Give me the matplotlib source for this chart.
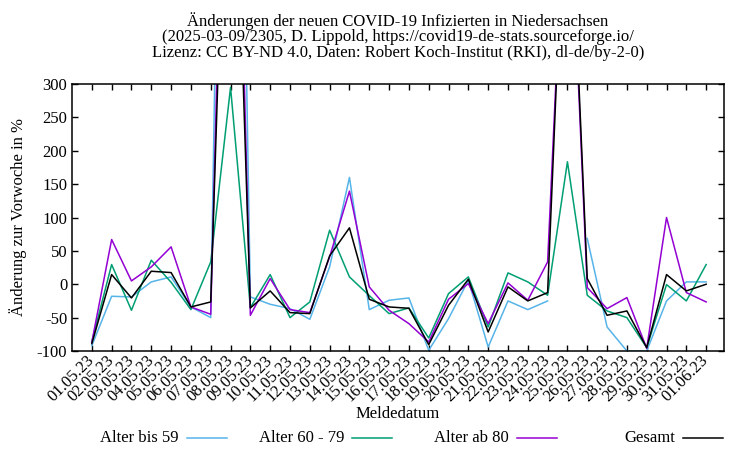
import numpy as np
import matplotlib
matplotlib.use("Agg")
import matplotlib.pyplot as plt
from matplotlib.lines import Line2D

plt.rcParams['font.family'] = ['Liberation Serif', 'DejaVu Serif']
plt.rcParams['font.size'] = 12
plt.rcParams['axes.unicode_minus'] = False

# Meldedatum 01.05.23 - 01.06.23
dates = ['%02d.05.23' % d for d in range(1, 32)] + ['01.06.23']

# Änderung zur Vorwoche in % (Werte ueber 300 sind abgeschnitten)
bis59 = [-92, -18, -19, 3.5, 11, -34, -50, 1700, -19, -30, -36.5, -52.5, 26, 160, -38, -24,
         -20.5, -99, -51.5, 6, -94, -25, -38, -25, np.nan, 68.5, -64, -100, -100, -25, 3.5, 3.5]
a60_79 = [-86, 29.5, -39, 36, 3, -38, 33.5, 295, -35, 14.5, -50, -26.5, 81, 11, -17, -44,
          -35.5, -80.5, -14, 11, -64, 17, 3.5, -16.5, 183.5, -16.5, -40, -50, -95, -0.5, -25, 29.5]
ab80 = [-87, 67, 5, 26, 56, -34, -45, 1100, -46.5, 8.5, -38, -42.5, 41, 139.5, -4, -39,
        -59, -86.5, -22.5, 1, -59, 2, -24, 33.5, 680, -5, -36.5, -20, -96, 100, -12.5, -26.5]
gesamt = [-89, 14.5, -20.5, 19.5, 17.5, -34, -26.5, 900, -35.5, -10, -42.5, -44, 42.5, 84.5, -22.5, -34,
          -36, -90.5, -31.5, 7.5, -71.5, -4, -25, -12.5, 700, 8.5, -46.5, -40, -95, 14.5, -10, 0]

labels = ['Alter bis 59', 'Alter 60 - 79', 'Alter ab 80', 'Gesamt']
colors = ['#56b4e9', '#009e73', '#9400d3', '#000000']
series = [bis59, a60_79, ab80, gesamt]

x = np.arange(len(dates))

fig = plt.figure(figsize=(7.5, 4.5), dpi=100)
ax = fig.add_axes([72/750, 1-351/450, (724-72)/750, (351-84)/450])

for s, c in zip(series, colors):
    ax.plot(x, s, color=c, lw=1.1)

ax.set_xlim(-1, 31.9)
ax.set_ylim(-100, 300)
ax.set_yticks(range(-100, 301, 50))
ax.set_xticks(x)
ax.set_xticklabels(dates, rotation=45, ha='right', va='center', rotation_mode='anchor')
ax.tick_params(direction='in', length=4, width=1, top=True, right=True, labelsize=12)
ax.tick_params(axis='x', pad=5)
for sp in ax.spines.values():
    sp.set_linewidth(1.1)

fig.text(398/750, 1-414/450, 'Meldedatum', ha='center', va='center', fontsize=12)
fig.text(18/750, 1-217/450, 'Änderung zur Vorwoche in %', rotation=90, ha='center', va='center', fontsize=12)

title = ('Änderungen der neuen COVID-19 Infizierten in Niedersachsen\n'
         '(2025-03-09/2305, D. Lippold, https://covid19-de-stats.sourceforge.io/\n'
         'Lizenz: CC BY-ND 4.0, Daten: Robert Koch-Institut (RKI), dl-de/by-2-0)')
fig.text(398/750, 1-12/450, title, ha='center', va='top', fontsize=12, linespacing=0.95)

# Legende unten, Text links vom Linienmuster
text_ends = [179, 344, 509, 675]
for lab, c, te in zip(labels, colors, text_ends):
    y = 1 - 438/450
    fig.text(te/750, y, lab, ha='right', va='center', fontsize=12)
    fig.add_artist(Line2D([(te+8)/750, (te+48)/750], [y, y], color=c, lw=1.1))

fig.savefig('out.png', dpi=100)
